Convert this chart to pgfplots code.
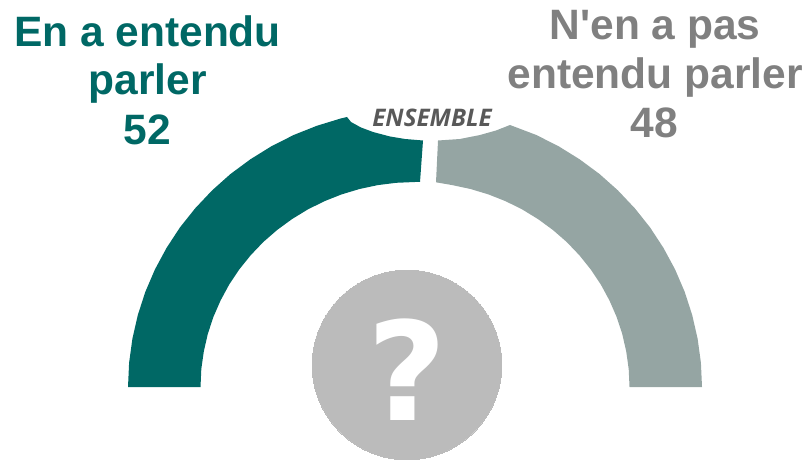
\documentclass[border=0pt]{standalone}
\usepackage{pgfplots}
\pgfplotsset{compat=1.18}
\usepackage{fontspec}
\newfontfamily\lab{Liberation Sans}
\newfontfamily\ensfont{Open Sans}
\newfontfamily\qfont{DejaVu Sans}
\definecolor{teal1}{HTML}{006865}
\definecolor{arcgrey}{HTML}{95A5A3}
\definecolor{txtgrey}{HTML}{808080}
\definecolor{circgrey}{HTML}{BBBBBB}
\definecolor{ensgrey}{HTML}{595959}
\pgfplotsset{canvas/.style={
  at={(0,0)}, anchor=south west,
  scale only axis, width=807bp, height=460bp,
  xmin=0, xmax=807, ymin=0, ymax=460, y dir=reverse,
  hide axis, clip=false,
  every node/.append style={inner sep=0pt, outer sep=0pt},
}}
\begin{document}
\begin{tikzpicture}[x=1bp,y=1bp]
\path[use as bounding box] (0,0) rectangle (807,460);
\begin{axis}[canvas]
% 52 : En a entendu parler
\addplot[fill=teal1, draw=none] coordinates {
(128,387)(129.1,362.8)(132.4,338.7)(137.8,315.1)(145.3,291.9)(154.9,269.5)(166.5,248)(179.9,227.5)(195.2,208.3)(212.1,190.4)(230.5,174)(250.4,159.3)(271.5,146.2)(293.7,135)(316.8,125.8)(340.7,118.5)(347,117)
(351,122)(361,127.5)(373,132)(390,136.5)(405,139)(423,140.5)
(420,182)(415,182)(396.3,182.8)(377.8,185.1)(359.5,189)(341.6,194.4)(324.4,201.2)(307.7,209.5)(292,219.1)(277.1,230)(263.3,242)(250.7,255.2)(239.3,269.4)(229.2,284.5)(220.6,300.4)(213.4,316.9)(207.8,333.9)(203.8,351.4)(201.3,369.1)(200.5,387)
} -- cycle;
% 48 : N'en a pas entendu parler
\addplot[fill=arcgrey, draw=none] coordinates {
(438,140.5)(460,139)(480,135)(496,130.5)(510,125)
(536.3,135)(558.5,146.2)(579.6,159.3)(599.5,174)(617.9,190.4)(634.8,208.3)(650.1,227.5)(663.5,248)(675.1,269.5)(684.7,291.9)(692.2,315.1)(697.6,338.7)(700.9,362.8)(702,387)
(629.5,387)(628.7,369.1)(626.2,351.4)(622.2,333.9)(616.6,316.9)(609.4,300.4)(600.8,284.5)(590.7,269.4)(579.3,255.2)(566.7,242)(552.9,230)(538,219.1)(522.3,209.5)(505.6,201.2)(488.4,194.4)(470.5,189)(452.2,185.1)(436,182.3)
} -- cycle;
% circle
\addplot[only marks, mark=*, mark size=95.2pt, mark options={fill=circgrey, draw=circgrey, line width=0pt}] coordinates {(407,365)};
\end{axis}
\begin{axis}[canvas]
\addplot[draw=none, forget plot] coordinates {(407,420)};
\node[anchor=base, text=white] at (axis cs:407,420) {\fontsize{137bp}{137bp}\selectfont\qfont\bfseries ?};
\node[anchor=base, text=ensgrey] at (axis cs:432,126.5) {\fontsize{24.2bp}{24.2bp}\selectfont\ensfont\bfseries\itshape ENSEMBLE};
% left label
\node[anchor=base, text=teal1] at (axis cs:147.5,46.5) {\fontsize{42.5bp}{42.5bp}\selectfont\lab\bfseries En a entendu};
\node[anchor=base, text=teal1] at (axis cs:147.5,95) {\fontsize{42.5bp}{42.5bp}\selectfont\lab\bfseries parler};
\node[anchor=base, text=teal1] at (axis cs:147.5,145) {\fontsize{42.5bp}{42.5bp}\selectfont\lab\bfseries 52};
% right label
\node[anchor=base, text=txtgrey] at (axis cs:655,39.5) {\fontsize{42.5bp}{42.5bp}\selectfont\lab\bfseries N'en a pas};
\node[anchor=base, text=txtgrey] at (axis cs:655,88.5) {\fontsize{42.5bp}{42.5bp}\selectfont\lab\bfseries entendu parler};
\node[anchor=base, text=txtgrey] at (axis cs:654,138) {\fontsize{42.5bp}{42.5bp}\selectfont\lab\bfseries 48};
\end{axis}
\end{tikzpicture}
\end{document}
